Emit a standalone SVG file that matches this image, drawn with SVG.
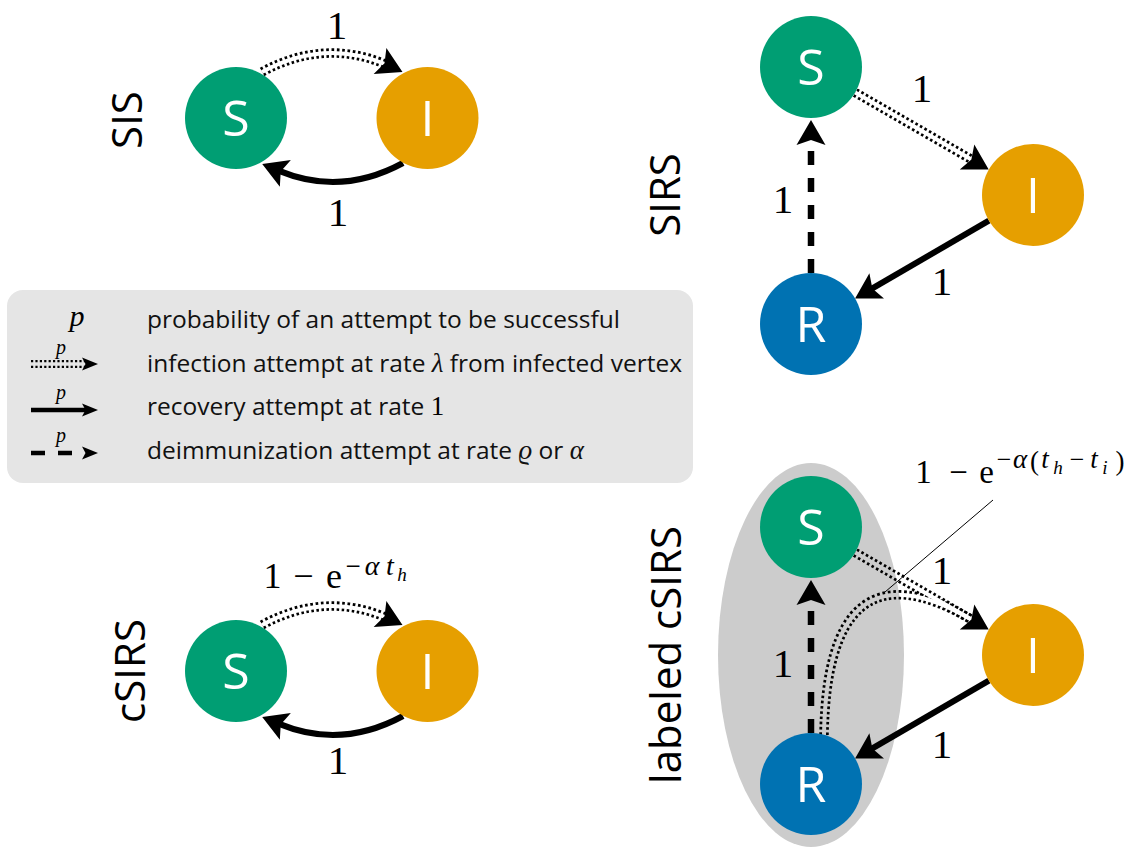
<svg xmlns="http://www.w3.org/2000/svg" xmlns:xlink="http://www.w3.org/1999/xlink" width="1130" height="848" viewBox="0 0 1130 848">
<style>
.gS{fill:#009E73}.gI{fill:#E69F00}.gR{fill:#0072B2}
.nl{font-family:"Open Sans","Liberation Sans",sans-serif;font-size:50px;fill:#fff;text-anchor:middle}
.rl{font-family:"Open Sans","Liberation Sans",sans-serif;font-size:42px;fill:#000;text-anchor:middle}
.lg{font-family:"Open Sans","Liberation Sans",sans-serif;font-size:24.5px;fill:#111}
.m{font-family:"Liberation Serif","DejaVu Serif",serif;fill:#000}
.mi{font-family:"Liberation Serif","DejaVu Serif",serif;font-style:italic}
.one{font-family:"Liberation Serif","DejaVu Serif",serif;font-size:41px;text-anchor:middle;fill:#000}
.dot{fill:none;stroke:#000;stroke-width:9.5;stroke-dasharray:2.6 2.6}
.sol{fill:none;stroke:#000;stroke-width:6}
.dash{fill:none;stroke:#000;stroke-width:6.5;stroke-dasharray:14 13}
</style>
<defs>
<path id="ahp" d="M0,0 L-25,-14.5 L-20,0 L-25,14.5 Z" fill="#000"/>
<path id="ahps" d="M0,0 L-16,-6.5 L-12.5,0 L-16,6.5 Z" fill="#000"/>
<marker id="ah" viewBox="-26 -16 28 32" refX="-19" refY="0" markerWidth="28" markerHeight="32" markerUnits="userSpaceOnUse" orient="auto"><path d="M0,0 L-25,-14.5 L-20,0 L-25,14.5 Z" fill="#000"/></marker>
<marker id="ahs" viewBox="-17 -8 18 16" refX="-12" refY="0" markerWidth="18" markerHeight="16" markerUnits="userSpaceOnUse" orient="auto"><path d="M0,0 L-16,-6.5 L-12.5,0 L-16,6.5 Z" fill="#000"/></marker>
<path id="d1" d="M262,72 Q323.6,38.56 385.2,64"/>
<path id="d2" d="M262,625 Q323.6,591.56 385.2,617"/>
<path id="d3" d="M855.2,92.5 L972.3,160"/>
<path id="d4" d="M855.2,552.5 L972.3,620"/>
<path id="d5" d="M824,735 C826,610 870,560 972.3,620"/>
<path id="d6" d="M31,364 L86,364"/>
<mask id="dm" maskUnits="userSpaceOnUse" x="0" y="0" width="1130" height="848">
<g fill="none" stroke="#fff" stroke-width="12">
<use xlink:href="#d1"/><use xlink:href="#d2"/><use xlink:href="#d3"/><use xlink:href="#d4"/><use xlink:href="#d5"/><use xlink:href="#d6"/>
</g>
<g fill="none" stroke="#000" stroke-width="4">
<use xlink:href="#d1"/><use xlink:href="#d2"/><use xlink:href="#d3"/><use xlink:href="#d4"/><use xlink:href="#d5"/>
</g>
<use xlink:href="#d6" fill="none" stroke="#000" stroke-width="3.4"/>
</mask>
</defs>

<g id="legend">
<rect x="7" y="290" width="686" height="193" rx="16" fill="#e5e5e5"/>
<text class="mi" x="77" y="326" font-size="30" text-anchor="middle">p</text>
<text class="mi" x="61" y="354" font-size="20" text-anchor="middle">p</text>
<text class="mi" x="61" y="399" font-size="20" text-anchor="middle">p</text>
<text class="mi" x="61" y="442" font-size="20" text-anchor="middle">p</text>
<path d="M31,410 L86,410" fill="none" stroke="#000" stroke-width="4.5" marker-end="url(#ahs)"/>
<path d="M31,453 L45,453 M58,453 L72,453" fill="none" stroke="#000" stroke-width="4.5"/>
<use xlink:href="#ahps" transform="translate(98,453)"/>
<use xlink:href="#ahps" transform="translate(98,364)"/>
<text class="lg" x="147" y="328">probability of an attempt to be successful</text>
<text class="lg" x="147" y="372">infection attempt at rate <tspan class="mi" font-size="27">λ</tspan> from infected vertex</text>
<text class="lg" x="147" y="415">recovery attempt at rate <tspan class="m" font-size="27">1</tspan></text>
<text class="lg" x="147" y="459">deimmunization attempt at rate <tspan class="mi" font-size="27">ϱ</tspan> or <tspan class="mi" font-size="27">α</tspan></text>
</g>

<ellipse id="label-ellipse" cx="811" cy="655" rx="93" ry="192" fill="#cccccc"/>

<g id="connectors">
<g mask="url(#dm)">
<use xlink:href="#d1" class="dot"/>
<use xlink:href="#d2" class="dot"/>
<use xlink:href="#d3" class="dot"/>
<use xlink:href="#d4" class="dot"/>
<use xlink:href="#d5" class="dot"/>
<use xlink:href="#d6" class="dot" style="stroke-width:8;stroke-dasharray:2.2 2.2"/>
</g>
<use xlink:href="#ahp" transform="translate(402.5,72) rotate(26)"/>
<use xlink:href="#ahp" transform="translate(402.5,625) rotate(26)"/>
<use xlink:href="#ahp" transform="translate(988.7,169.5) rotate(30)"/>
<use xlink:href="#ahp" transform="translate(988.7,629.5) rotate(30)"/>
<path class="sol" d="M403,163 Q341.4,196.4 279.8,171.1" marker-end="url(#ah)"/>
<path class="sol" d="M403,716 Q341.4,749.4 279.8,724.1" marker-end="url(#ah)"/>
<path class="sol" d="M988.9,220.6 L871.5,288.9" marker-end="url(#ah)"/>
<path class="sol" d="M988.9,680.6 L871.5,748.9" marker-end="url(#ah)"/>
<path class="dash" d="M811,273 L811,139" marker-end="url(#ah)"/>
<path class="dash" d="M811,733 L811,599" marker-end="url(#ah)"/>
<path d="M885,592 L993,500" fill="none" stroke="#000" stroke-width="1"/>
</g>

<g id="sis-S"><circle class="gS" cx="236" cy="118" r="51"/><text class="nl" x="236" y="136">S</text></g>
<g id="sis-I"><circle class="gI" cx="427.5" cy="118" r="51"/><text class="nl" x="427.5" y="136">I</text></g>
<g id="csirs-S"><circle class="gS" cx="236" cy="671" r="51"/><text class="nl" x="236" y="689">S</text></g>
<g id="csirs-I"><circle class="gI" cx="427.5" cy="671" r="51"/><text class="nl" x="427.5" y="689">I</text></g>
<g id="sirs-S"><circle class="gS" cx="811" cy="67" r="51"/><text class="nl" x="811" y="85">S</text></g>
<g id="sirs-I"><circle class="gI" cx="1033" cy="195" r="51"/><text class="nl" x="1033" y="213">I</text></g>
<g id="sirs-R"><circle class="gR" cx="811" cy="324" r="51"/><text class="nl" x="811" y="342">R</text></g>
<g id="lcsirs-S"><circle class="gS" cx="811" cy="527" r="51"/><text class="nl" x="811" y="545">S</text></g>
<g id="lcsirs-I"><circle class="gI" cx="1033" cy="655" r="51"/><text class="nl" x="1033" y="673">I</text></g>
<g id="lcsirs-R"><circle class="gR" cx="811" cy="784" r="51"/><text class="nl" x="811" y="802">R</text></g>

<g id="titles">
<text class="rl" transform="translate(142,120) rotate(-90)">SIS</text>
<text class="rl" transform="translate(680,195) rotate(-90)">SIRS</text>
<text class="rl" transform="translate(145,671) rotate(-90)">cSIRS</text>
<text class="rl" transform="translate(681,655) rotate(-90)">labeled cSIRS</text>
</g>

<g id="edge-labels">
<text class="one" x="337" y="39">1</text>
<text class="one" x="338" y="226">1</text>
<text class="one" x="338" y="774">1</text>
<text class="one" x="922" y="102">1</text>
<text class="one" x="783" y="213">1</text>
<text class="one" x="942" y="295">1</text>
<text class="one" x="942" y="584">1</text>
<text class="one" x="783" y="677">1</text>
<text class="one" x="942" y="758">1</text>
<text class="m" text-anchor="middle" font-size="36"><tspan x="272.5" y="588">1</tspan><tspan x="303.5" y="588">−</tspan><tspan x="334" y="588">e</tspan><tspan x="353" y="575" font-size="27">−</tspan><tspan class="mi" x="372" y="575" font-size="28">α</tspan><tspan class="mi" x="390" y="575" font-size="28">t</tspan><tspan class="mi" x="402" y="581" font-size="19">h</tspan></text>
<text class="m" text-anchor="middle" font-size="33"><tspan x="923.5" y="483">1</tspan><tspan x="958.5" y="483">−</tspan><tspan x="986.5" y="483">e</tspan><tspan x="1004" y="468" font-size="26">−</tspan><tspan class="mi" x="1020" y="468" font-size="27">α</tspan><tspan x="1034.5" y="470" font-size="27">(</tspan><tspan class="mi" x="1045" y="468" font-size="27">t</tspan><tspan class="mi" x="1058" y="474" font-size="19">h</tspan><tspan x="1077" y="468" font-size="26">−</tspan><tspan class="mi" x="1094" y="468" font-size="27">t</tspan><tspan class="mi" x="1105" y="474" font-size="19">i</tspan><tspan x="1120" y="470" font-size="27">)</tspan></text>
</g>
</svg>
